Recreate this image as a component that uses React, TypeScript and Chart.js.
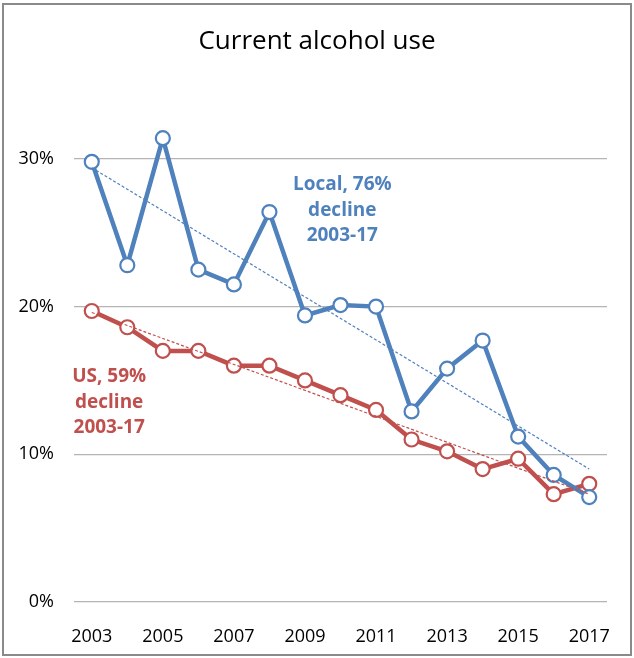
import React, { useEffect, useRef } from "react";
import { Chart, registerables } from "chart.js";

Chart.register(...registerables);

const years = ["2003","2004","2005","2006","2007","2008","2009","2010","2011","2012","2013","2014","2015","2016","2017"];
const localValues = [29.8, 22.8, 31.4, 22.5, 21.5, 26.4, 19.4, 20.1, 20.0, 12.9, 15.8, 17.7, 11.2, 8.6, 7.1];
const usValues = [19.7, 18.6, 17.0, 17.0, 16.0, 16.0, 15.0, 14.0, 13.0, 11.0, 10.2, 9.0, 9.7, 7.3, 8.0];
const localTrend = [{ x: "2003", y: 29.4 }, { x: "2017", y: 9.0 }];
const usTrend = [{ x: "2003", y: 19.6 }, { x: "2017", y: 7.3 }];
const yTicks = [0, 10, 20, 30];
const title = "Current alcohol use";
const localNote = ["Local, 76%", "decline", "2003-17"];
const usNote = ["US, 59%", "decline", "2003-17"];
const localNoteAt = { x: 7.05, y: 26.5 };
const usNoteAt = { x: 0.49, y: 13.5 };

const BLUE = "#4F81BD";
const RED = "#C0504D";
const FONT = "'Open Sans', sans-serif";

export default function App() {
  const ref = useRef<HTMLCanvasElement>(null);
  useEffect(() => {
    document.body.style.margin = "0";
    const notes = {
      id: "notes",
      afterDatasetsDraw(chart: any) {
        const { ctx, scales } = chart;
        const draw = (lines: string[], at: any, color: string) => {
          const cx = scales.x.getPixelForValue(at.x);
          const cy = scales.y.getPixelForValue(at.y);
          ctx.save();
          ctx.font = `bold 19px ${FONT}`;
          ctx.fillStyle = color;
          ctx.textAlign = "center";
          ctx.textBaseline = "middle";
          lines.forEach((l, i) => ctx.fillText(l, cx, cy + (i - 1) * 25.5));
          ctx.restore();
        };
        draw(localNote, localNoteAt, BLUE);
        draw(usNote, usNoteAt, RED);
      },
    };
    const frame = {
      id: "frame",
      afterDraw(chart: any) {
        const { ctx } = chart;
        ctx.save();
        ctx.strokeStyle = "#8a8a8a";
        ctx.lineWidth = 2;
        ctx.strokeRect(3, 4, 628, 651);
        ctx.fillStyle = "#000000";
        ctx.font = `26px ${FONT}`;
        ctx.textAlign = "center";
        ctx.textBaseline = "middle";
        ctx.fillText(title, 317, 42);
        ctx.restore();
      },
    };
    const chart = new Chart(ref.current!, {
      type: "line",
      data: {
        labels: years,
        datasets: [
          { data: localTrend as any, borderColor: BLUE, borderWidth: 1.2, borderDash: [3, 2], pointRadius: 0, order: 0 },
          { data: usTrend as any, borderColor: RED, borderWidth: 1.2, borderDash: [3, 2], pointRadius: 0, order: 1 },
          { data: localValues, borderColor: BLUE, borderWidth: 4.5, pointRadius: 7, pointBorderWidth: 2.2, pointBackgroundColor: "#ffffff", pointBorderColor: BLUE, order: 2 },
          { data: usValues, borderColor: RED, borderWidth: 4.5, pointRadius: 7, pointBorderWidth: 2.2, pointBackgroundColor: "#ffffff", pointBorderColor: RED, order: 3 },
        ],
      },
      options: {
        animation: false,
        responsive: false,
        layout: { padding: { left: 0, right: 27, top: 85, bottom: 0 } },
        plugins: {
          legend: { display: false },
          tooltip: { enabled: false },
          title: { display: false },
        },
        scales: {
          x: {
            offset: true,
            grid: { display: false },
            border: { display: false },
            ticks: {
              autoSkip: false,
              maxRotation: 0,
              padding: 16,
              color: "#000000",
              font: { family: FONT, size: 18 },
              callback: (v: any, i: number) => (i % 2 === 0 ? years[i] : ""),
            },
            afterFit: (s: any) => { s.height = 56; },
          },
          y: {
            min: 0,
            max: 35,
            border: { display: false },
            grid: { color: "#b4b4b4", lineWidth: 1.3, drawTicks: false },
            ticks: {
              padding: 20,
              color: "#000000",
              font: { family: FONT, size: 18 },
              callback: (v: any) => v + "%",
            },
            afterBuildTicks: (s: any) => { s.ticks = yTicks.map((v) => ({ value: v })); },
            afterFit: (s: any) => { s.width = 74; },
          },
        },
      },
      plugins: [notes, frame],
    } as any);
    return () => chart.destroy();
  }, []);
  return (
    <div style={{ width: 634, height: 658, background: "#fff" }}>
      <canvas ref={ref} width={634} height={658} />
    </div>
  );
}
